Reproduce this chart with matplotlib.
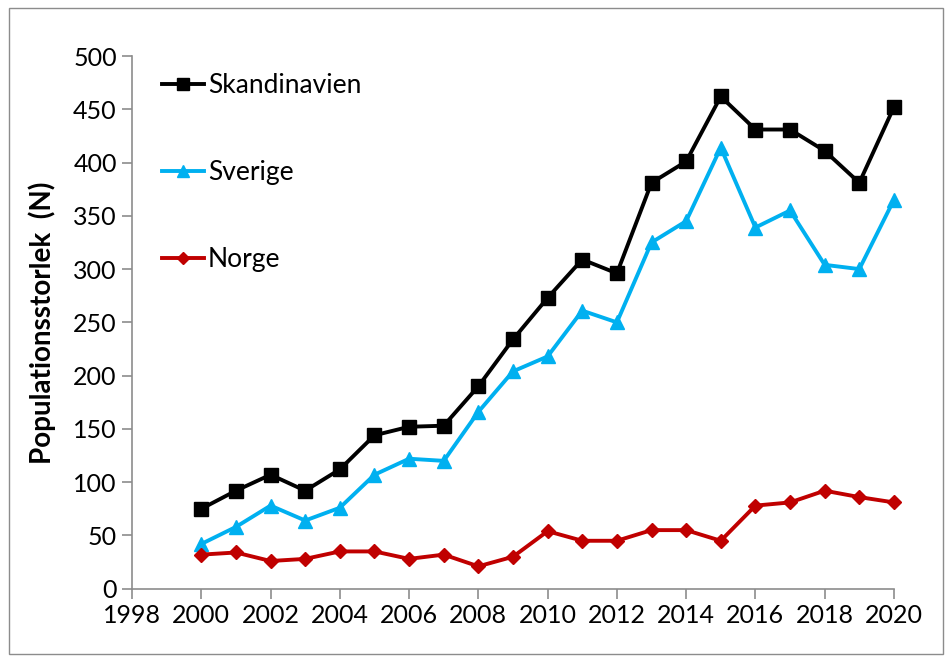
import matplotlib.pyplot as plt
from matplotlib.patches import Rectangle

years = list(range(2000, 2021))
skandinavien = [75, 92, 107, 92, 112, 144, 152, 153, 190, 234, 273, 309, 296,
                381, 401, 462, 431, 431, 411, 381, 452]
sverige = [42, 58, 78, 64, 76, 107, 122, 120, 166, 204, 218, 261, 250,
           325, 345, 414, 339, 355, 304, 300, 365]
norge = [32, 34, 26, 28, 35, 35, 28, 32, 21, 30, 54, 45, 45,
         55, 55, 45, 78, 81, 92, 86, 81]

x_ticks = list(range(1998, 2021, 2))
y_ticks = list(range(0, 501, 50))

plt.rcParams['font.family'] = ['Lato', 'DejaVu Sans']

fig = plt.figure(figsize=(9.52, 6.62), dpi=100)
ax = fig.add_axes([0.1387, 0.1107, 0.8003, 0.8047])

ax.plot(years, skandinavien, color='black', lw=2.8, marker='s', ms=10,
        label='Skandinavien', clip_on=False)
ax.plot(years, sverige, color='#00B0F0', lw=2.8, marker='^', ms=10,
        label='Sverige', clip_on=False)
ax.plot(years, norge, color='#C00000', lw=2.8, marker='D', ms=7.5,
        label='Norge', clip_on=False)

ax.set_xlim(1998, 2020)
ax.set_ylim(0, 500)
ax.set_xticks(x_ticks)
ax.set_yticks(y_ticks)
for s in ['top', 'right']:
    ax.spines[s].set_visible(False)
for s in ['left', 'bottom']:
    ax.spines[s].set_color('#8c8c8c')
    ax.spines[s].set_linewidth(1.2)
ax.tick_params(direction='out', length=7, width=1.2, color='#8c8c8c',
               labelsize=18, pad=4)

ax.set_ylabel('Populationsstorlek  (N)', fontsize=20, fontweight='bold',
              labelpad=12)

ax.legend(loc='upper left', bbox_to_anchor=(0.008, 1.012), frameon=False,
          fontsize=19, handlelength=1.6, handletextpad=0.15, labelspacing=2.35,
          markerscale=0.8)

fig.add_artist(Rectangle((0.009, 0.012), 0.982, 0.976, transform=fig.transFigure,
                         fill=False, edgecolor='#8c8c8c', lw=1))

fig.savefig('out.png', dpi=100)
